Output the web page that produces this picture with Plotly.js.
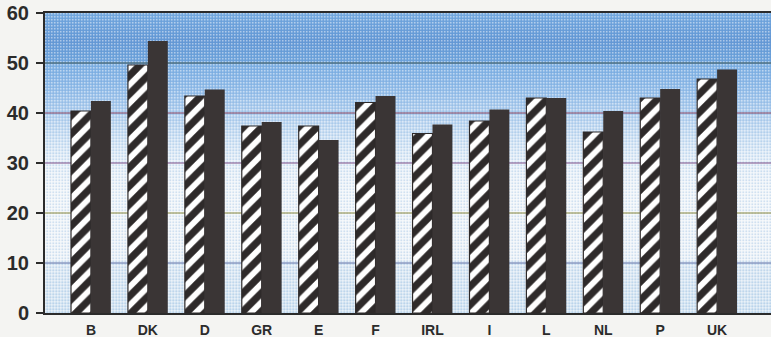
<!DOCTYPE html>
<html>
<head>
<meta charset="utf-8">
<script src="https://cdn.plot.ly/plotly-3.0.1.min.js"></script>
<style>
html,body{margin:0;padding:0;background:#f4f4f2;}
#chart{width:771px;height:337px;}
</style>
</head>
<body>
<div id="chart"></div>
<script>
// ---- data ----
const categories = ["B","DK","D","GR","E","F","IRL","I","L","NL","P","UK"];
const hatchedValues = [40.4, 49.6, 43.4, 37.4, 37.4, 42.1, 35.9, 38.4, 43.0, 36.2, 43.0, 46.8];
const darkValues    = [42.4, 54.4, 44.7, 38.2, 34.6, 43.4, 37.7, 40.7, 43.0, 40.4, 44.8, 48.7];
const yTickValues = [0, 10, 20, 30, 40, 50, 60];
const gridValues  = [10, 20, 30, 40, 50];
const gridColors  = ["#5b6ea6", "#8c8a3e", "#7a4d86", "#7c3c5e", "#3c5552"];

// ---- background (gradient + halftone dots) ----
const svg =
 '<svg xmlns="http://www.w3.org/2000/svg" width="726" height="300" preserveAspectRatio="none">' +
 '<defs>' +
 '<linearGradient id="g" x1="0" y1="0" x2="0" y2="1">' +
 '<stop offset="0" stop-color="#78abe0"/>' +
 '<stop offset="0.09" stop-color="#6598d5"/>' +
 '<stop offset="0.16" stop-color="#70a4db"/>' +
 '<stop offset="0.17" stop-color="#7eafe2"/>' +
 '<stop offset="0.25" stop-color="#93bce8"/>' +
 '<stop offset="0.333" stop-color="#b4d0ee"/>' +
 '<stop offset="0.42" stop-color="#d2e3f4"/>' +
 '<stop offset="0.5" stop-color="#e8f0f8"/>' +
 '<stop offset="0.6" stop-color="#f1f5f9"/>' +
 '<stop offset="0.82" stop-color="#eef3f8"/>' +
 '<stop offset="0.835" stop-color="#dfeaf4"/>' +
 '<stop offset="1" stop-color="#d4e4f2"/>' +
 '</linearGradient>' +
 '<pattern id="p" width="3" height="3" patternUnits="userSpaceOnUse">' +
 '<rect x="0" y="0" width="1.5" height="1.5" fill="#ffffff" opacity="0.45"/>' +
 '<rect x="1.5" y="1.5" width="1.5" height="1.5" fill="#4f8fd0" opacity="0.2"/>' +
 '</pattern>' +
 '</defs>' +
 '<rect x="0" y="0" width="726" height="300" fill="url(#g)"/>' +
 '<rect x="0" y="0" width="726" height="300" fill="url(#p)"/>' +
 '</svg>';
const bgSource = 'data:image/svg+xml;utf8,' + encodeURIComponent(svg);

const traces = [
  {
    type: 'bar',
    x: categories,
    y: hatchedValues,
    marker: {
      color: '#ffffff',
      line: {color: '#2e2a2a', width: 1.2},
      pattern: {shape: '/', fgcolor: '#2e2a2a', bgcolor: '#ffffff', fgopacity: 1, size: 13, solidity: 0.55, fillmode: 'replace'}
    },
    hoverinfo: 'skip'
  },
  {
    type: 'bar',
    x: categories,
    y: darkValues,
    marker: {color: '#3a3535', line: {width: 0}},
    hoverinfo: 'skip'
  }
];

const shapes = gridValues.map((v, i) => ({
  type: 'line', xref: 'paper', yref: 'y', x0: 0, x1: 1, y0: v, y1: v,
  line: {color: gridColors[i], width: 1}, layer: 'below'
}));

const layout = {
  width: 771, height: 337,
  margin: {l: 45, r: 0, t: 13, b: 24, pad: 0},
  paper_bgcolor: '#f4f4f2',
  plot_bgcolor: 'rgba(0,0,0,0)',
  showlegend: false,
  barmode: 'group',
  bargap: 0.30,
  bargroupgap: 0,
  font: {family: '"Liberation Sans", Arial, sans-serif', color: '#2b2b2b'},
  xaxis: {
    type: 'category',
    range: [-0.807, 11.947],
    showgrid: false,
    zeroline: false,
    showline: true, linecolor: '#2b2b2b', linewidth: 2, mirror: true,
    ticks: '',
    tickfont: {size: 14, family: '"Liberation Sans", Arial, sans-serif', weight: 'bold', color: '#2b2b2b'},
    ticklabelstandoff: 3,
    fixedrange: true
  },
  yaxis: {
    range: [0, 60],
    tickvals: yTickValues,
    ticktext: yTickValues.map(String),
    showgrid: false,
    zeroline: false,
    showline: true, linecolor: '#2b2b2b', linewidth: 2,
    ticks: 'outside', ticklen: 7, tickwidth: 2, tickcolor: '#2b2b2b',
    tickfont: {size: 20, family: '"Liberation Sans", Arial, sans-serif', weight: 'bold', color: '#2b2b2b'},
    ticklabelstandoff: 3,
    fixedrange: true
  },
  shapes: shapes,
  images: [{
    source: bgSource, xref: 'paper', yref: 'paper', x: 0, y: 1,
    sizex: 1, sizey: 1, xanchor: 'left', yanchor: 'top',
    sizing: 'stretch', layer: 'below'
  }]
};

Plotly.newPlot('chart', traces, layout, {staticPlot: true, displayModeBar: false});
</script>
</body>
</html>
